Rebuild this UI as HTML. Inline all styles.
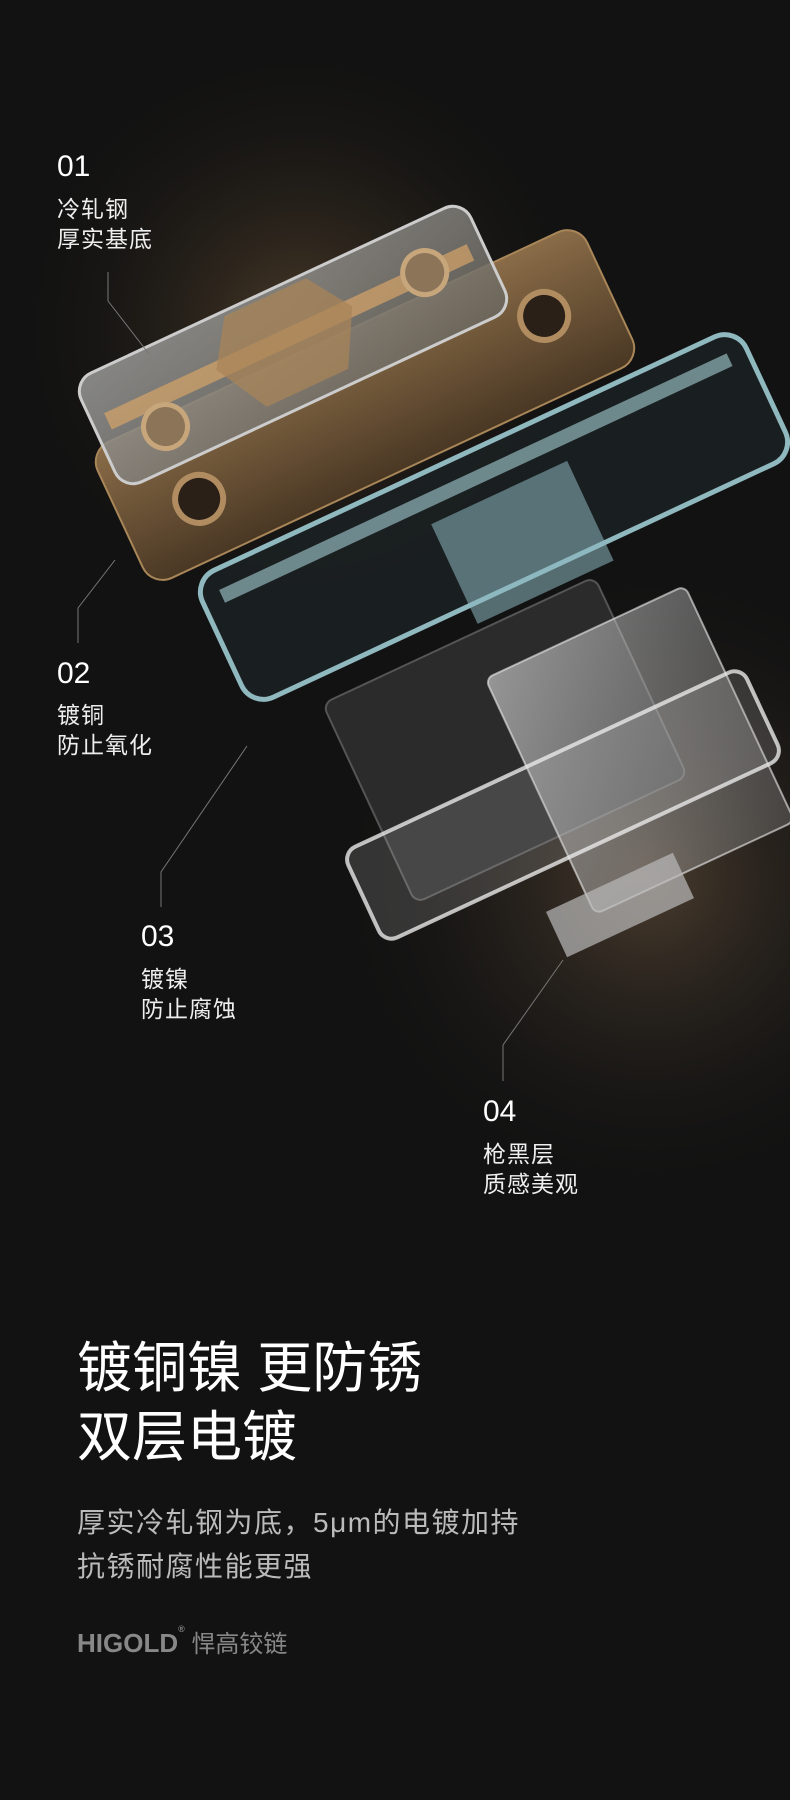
<!DOCTYPE html>
<html><head><meta charset="utf-8"><style>
html,body{margin:0;padding:0}
body{width:790px;height:1800px;background:#121212;position:relative;overflow:hidden;font-family:"Liberation Sans","Noto Sans CJK SC",sans-serif;color:#fff}
.t{position:absolute;white-space:nowrap}
.num{font-size:30px;line-height:1}
.lab{font-size:23px;line-height:30px;color:#eee;letter-spacing:1px}
</style></head><body>
<svg width="790" height="1800" style="position:absolute;left:0;top:0">
<defs>
<radialGradient id="g1" cx="300" cy="330" r="300" gradientUnits="userSpaceOnUse"><stop offset="0" stop-color="#4a3a28"/><stop offset="1" stop-color="#121212" stop-opacity="0"/></radialGradient>
<radialGradient id="g2" cx="650" cy="880" r="330" gradientUnits="userSpaceOnUse"><stop offset="0" stop-color="#4a3c2e"/><stop offset="1" stop-color="#121212" stop-opacity="0"/></radialGradient>
<linearGradient id="gold" x1="0" y1="0" x2="0" y2="1"><stop offset="0" stop-color="#8a6c48"/><stop offset="1" stop-color="#4a3824"/></linearGradient>
<linearGradient id="gray" x1="0" y1="0" x2="1" y2="1"><stop offset="0" stop-color="#9a9a98"/><stop offset="1" stop-color="#6a665e"/></linearGradient>
<linearGradient id="wh" x1="0" y1="0" x2="1" y2="1"><stop offset="0" stop-color="#ddd" stop-opacity=".6"/><stop offset="1" stop-color="#999" stop-opacity=".3"/></linearGradient>
</defs>
<rect width="790" height="1800" fill="url(#g1)"/>
<rect width="790" height="1800" fill="url(#g2)"/>
<g transform="translate(365,405) rotate(-25)">
<rect x="-270" y="-75" width="540" height="150" rx="22" fill="url(#gold)" stroke="#a88658" stroke-width="2"/>
<circle cx="-190" cy="15" r="24" fill="#2a2018" stroke="#b08c60" stroke-width="6"/>
<circle cx="200" cy="-5" r="24" fill="#2a2018" stroke="#b08c60" stroke-width="6"/>
</g>
<g transform="translate(505,740) rotate(-25)">
<rect x="-150" y="-110" width="300" height="220" rx="10" fill="#2b2b2b" stroke="#555" stroke-width="2"/>
</g>
<g transform="translate(494,517) rotate(-25)">
<rect x="-300" y="-70" width="600" height="140" rx="24" fill="#1c2224" fill-opacity=".8" stroke="#8fb8bf" stroke-width="5"/>
<rect x="-280" y="-50" width="560" height="14" fill="#a6d0d6" opacity=".6"/>
<rect x="-60" y="-20" width="150" height="110" fill="#8db8c0" opacity=".55"/>
</g>
<g transform="translate(293,345) rotate(-25)">
<rect x="-215" y="-60" width="430" height="120" rx="20" fill="url(#gray)" fill-opacity=".85" stroke="#ccc" stroke-width="3"/>
<rect x="-200" y="-18" width="400" height="18" fill="#d6a468" opacity=".7"/>
<polygon points="-50,-55 40,-55 70,-10 40,45 -50,45 -80,-10" fill="#a88458" opacity=".75"/>
<circle cx="-150" cy="20" r="22" fill="#8c7458" stroke="#c8a67c" stroke-width="5"/>
<circle cx="150" cy="-10" r="22" fill="#8c7458" stroke="#c8a67c" stroke-width="5"/>
</g>
<g transform="translate(640,750) rotate(-25)">
<rect x="-110" y="-130" width="220" height="260" rx="8" fill="url(#wh)" stroke="#eee" stroke-opacity=".6" stroke-width="2"/>
</g>
<g transform="translate(563,805) rotate(-25)">
<rect x="-220" y="-50" width="440" height="100" rx="14" fill="#bbb" fill-opacity=".2" stroke="#e8e8e8" stroke-width="4" stroke-opacity=".8"/>
</g>
<g transform="translate(620,905) rotate(-25)">
<rect x="-70" y="-25" width="140" height="50" fill="#bbb" opacity=".7"/>
</g>
<g fill="none" stroke="#777" stroke-width="1">
<polyline points="108,272 108,301 149,354"/>
<polyline points="78,643 78,608 115,560"/>
<polyline points="161,907 161,872 247,746"/>
<polyline points="503,1081 503,1045 563,960"/>
</g>
</svg>
<div class="t num" style="left:57px;top:152px">01</div>
<div class="t lab" style="left:57px;top:194px">冷轧钢<br>厚实基底</div>
<div class="t num" style="left:57px;top:659px">02</div>
<div class="t lab" style="left:57px;top:700px">镀铜<br>防止氧化</div>
<div class="t num" style="left:141px;top:922px">03</div>
<div class="t lab" style="left:141px;top:964px">镀镍<br>防止腐蚀</div>
<div class="t num" style="left:483px;top:1097px">04</div>
<div class="t lab" style="left:483px;top:1139px">枪黑层<br>质感美观</div>
<div class="t" style="left:77px;top:1334px;font-size:55px;line-height:69px">镀铜镍 更防锈<br>双层电镀</div>
<div class="t" style="left:77px;top:1501px;font-size:28px;line-height:44px;color:#bbb;letter-spacing:1.5px">厚实冷轧钢为底，5μm的电镀加持<br>抗锈耐腐性能更强</div>
<div class="t" style="left:77px;top:1624px;font-size:26px;color:#888;font-weight:bold">HIGOLD<span style="font-size:9px;vertical-align:top">®</span><span style="font-weight:normal;font-size:24px"> 悍高铰链</span></div>
</body></html>
